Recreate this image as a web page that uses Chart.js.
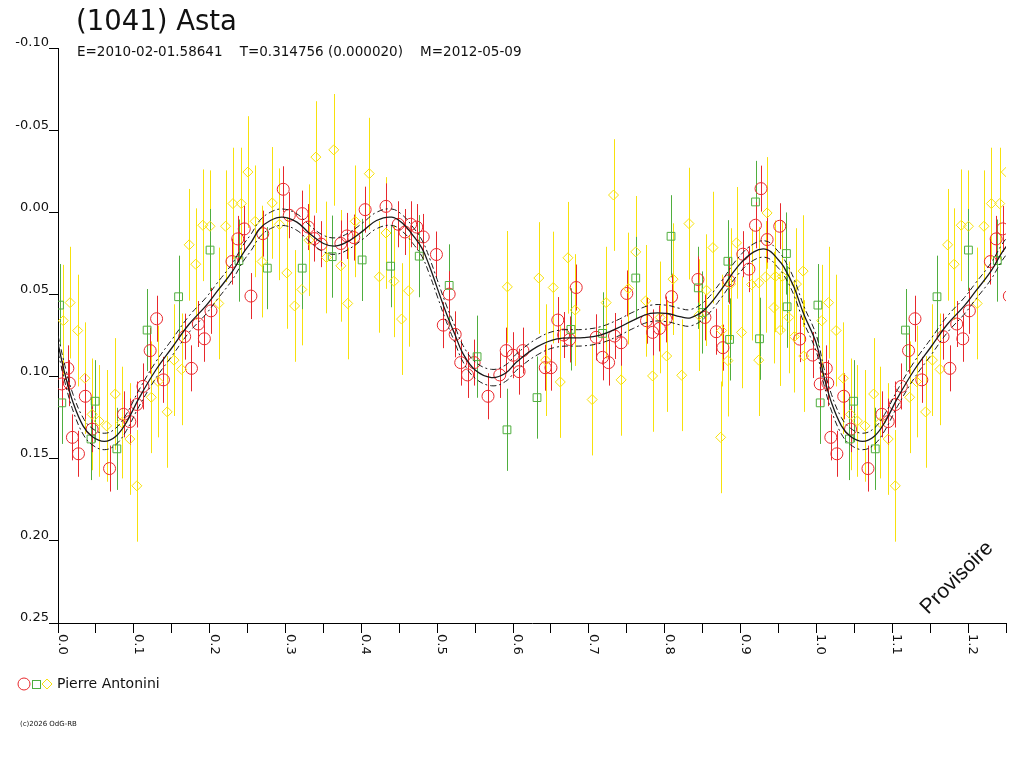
<!DOCTYPE html>
<html>
<head>
<meta charset="utf-8">
<title>(1041) Asta</title>
<script src="https://cdn.jsdelivr.net/npm/chart.js@4.4.1/dist/chart.umd.min.js"></script>
<style>
  html, body { margin: 0; padding: 0; background: #fff; }
  canvas { display: block; }
</style>
</head>
<body>
<canvas id="lc" width="1024" height="768"></canvas>
<script>
// [phase, magnitude], one list per session
const redPoints = [
  [0.005, 0.1045], [0.013, 0.095], [0.015, 0.104], [0.019, 0.137], [0.027, 0.147],
  [0.036, 0.112], [0.045, 0.132], [0.068, 0.156], [0.0864, 0.123], [0.0947, 0.1274],
  [0.104, 0.117], [0.112, 0.106], [0.1215, 0.0842], [0.130, 0.0648], [0.139, 0.102],
  [0.167, 0.0757], [0.176, 0.095], [0.185, 0.068], [0.193, 0.077], [0.2017, 0.060],
  [0.2294, 0.030], [0.237, 0.0162], [0.2456, 0.0101], [0.2544, 0.051], [0.270, 0.013],
  [0.297, -0.014], [0.305, 0.0018], [0.322, 0.0008], [0.330, 0.009], [0.338, 0.016],
  [0.347, 0.0194], [0.373, 0.019], [0.381, 0.0144], [0.390, 0.0154], [0.405, -0.0016],
  [0.4325, -0.0036], [0.4487, 0.0073], [0.4575, 0.012], [0.465, 0.0073], [0.473, 0.009],
  [0.4816, 0.015], [0.499, 0.0257], [0.508, 0.0687], [0.5158, 0.0498], [0.5237, 0.0743],
  [0.531, 0.0915], [0.540, 0.099], [0.5487, 0.0915], [0.567, 0.112], [0.5825, 0.099],
  [0.591, 0.0842], [0.600, 0.087], [0.608, 0.097], [0.613, 0.0842], [0.6425, 0.0946],
  [0.650, 0.0946], [0.659, 0.0656], [0.6667, 0.0747], [0.6746, 0.0774], [0.6833, 0.0458],
  [0.7096, 0.0761], [0.718, 0.0883], [0.726, 0.0915], [0.7338, 0.0753], [0.7425, 0.0794],
  [0.750, 0.0494], [0.776, 0.066], [0.784, 0.0731], [0.793, 0.0707], [0.8017, 0.0652],
  [0.809, 0.0514], [0.8438, 0.0409], [0.853, 0.064], [0.868, 0.0727], [0.8767, 0.0824],
  [0.8846, 0.0417], [0.903, 0.0255], [0.911, 0.0346], [0.9197, 0.0079], [0.927, -0.0144],
  [0.935, 0.0166], [0.9517, 0.0085], [0.978, 0.0772], [0.995, 0.0869]
];
const greenPoints = [
  [0.002, 0.0565], [0.005, 0.116], [0.0435, 0.138], [0.049, 0.115], [0.0776, 0.144],
  [0.1175, 0.0717], [0.159, 0.0514], [0.2005, 0.023], [0.2386, 0.0294], [0.276, 0.034],
  [0.322, 0.034], [0.3615, 0.027], [0.401, 0.029], [0.4386, 0.0328], [0.4763, 0.0267],
  [0.5158, 0.0445], [0.5526, 0.0879], [0.592, 0.1324], [0.6316, 0.1128], [0.6763, 0.0713],
  [0.718, 0.0737], [0.7618, 0.040], [0.8083, 0.0146], [0.8443, 0.046], [0.8496, 0.061],
  [0.8833, 0.0298], [0.8855, 0.0774], [0.9197, -0.0063], [0.925, 0.077], [0.9605, 0.0251],
  [0.9614, 0.0575]
];
const yellowPoints = [
  [0.007, 0.066], [0.016, 0.055], [0.026, 0.072], [0.0355, 0.101], [0.045, 0.123],
  [0.054, 0.127], [0.064, 0.130], [0.0755, 0.1106], [0.084, 0.128], [0.0947, 0.138],
  [0.104, 0.1665], [0.123, 0.1126], [0.132, 0.103], [0.144, 0.1215], [0.153, 0.090],
  [0.163, 0.0956], [0.173, 0.0198], [0.1816, 0.0316], [0.191, 0.0079], [0.2005, 0.0085],
  [0.212, 0.0555], [0.221, 0.0085], [0.2307, -0.0053], [0.2417, -0.0053], [0.2504, -0.0245],
  [0.260, 0.0055], [0.269, 0.030], [0.2825, -0.0057], [0.292, 0.0073], [0.3017, 0.0369],
  [0.312, 0.057], [0.3215, 0.047], [0.331, 0.017], [0.340, -0.0336], [0.354, 0.0275],
  [0.3636, -0.038], [0.373, 0.0326], [0.382, 0.0555], [0.392, 0.0055], [0.4105, -0.0235],
  [0.4237, 0.0393], [0.4325, 0.0126], [0.443, 0.042], [0.453, 0.065], [0.4623, 0.0478],
  [0.5925, 0.0454], [0.634, 0.040], [0.643, 0.090], [0.653, 0.0458], [0.6623, 0.1033],
  [0.6724, 0.0277], [0.682, 0.0595], [0.7043, 0.114], [0.7228, 0.055], [0.7325, -0.0105],
  [0.7425, 0.102], [0.752, 0.0464], [0.7618, 0.0241], [0.775, 0.0539], [0.784, 0.0996],
  [0.794, 0.064], [0.8026, 0.0875], [0.811, 0.0407], [0.8224, 0.0992], [0.832, 0.0069],
  [0.845, 0.0626], [0.855, 0.0474], [0.8636, 0.0215], [0.8737, 0.137], [0.875, 0.072],
  [0.8833, 0.0903], [0.8868, 0.0437], [0.8947, 0.0186], [0.9013, 0.0731], [0.9145, 0.044],
  [0.924, 0.043], [0.924, 0.090], [0.933, 0.0393], [0.935, 0.0004], [0.944, 0.058],
  [0.946, 0.039], [0.9526, 0.0717], [0.955, 0.039], [0.9636, 0.064], [0.971, 0.0757],
  [0.9737, 0.0437], [0.9825, 0.0358], [0.9833, 0.0875]
];
// fitted Fourier curve, read at a few phases
const fitCurve = [
  [0.000, 0.080], [0.010, 0.100], [0.020, 0.116], [0.033, 0.130], [0.045, 0.1365],
  [0.061, 0.1395], [0.076, 0.1365], [0.090, 0.128], [0.107, 0.113], [0.129, 0.096],
  [0.151, 0.082], [0.173, 0.068], [0.195, 0.057], [0.210, 0.048], [0.230, 0.036],
  [0.244, 0.025], [0.255, 0.018], [0.266, 0.010], [0.280, 0.005], [0.296, 0.003],
  [0.315, 0.006], [0.332, 0.013], [0.350, 0.019], [0.367, 0.0205], [0.385, 0.017],
  [0.403, 0.011], [0.420, 0.005], [0.440, 0.003], [0.455, 0.007], [0.468, 0.014],
  [0.480, 0.022], [0.490, 0.033], [0.500, 0.046], [0.512, 0.0615], [0.523, 0.074],
  [0.534, 0.086], [0.550, 0.096], [0.5715, 0.1006], [0.590, 0.098], [0.605, 0.091],
  [0.632, 0.0818], [0.658, 0.077], [0.693, 0.0763], [0.715, 0.0747], [0.737, 0.0707],
  [0.759, 0.0656], [0.781, 0.0616], [0.803, 0.0616], [0.820, 0.0635], [0.834, 0.0642],
  [0.852, 0.0595], [0.874, 0.0474], [0.896, 0.0332], [0.9175, 0.0241], [0.935, 0.0227],
  [0.950, 0.029], [0.957, 0.0332], [0.970, 0.045], [0.983, 0.0616], [1.000, 0.080]
];
const fitBand = 0.005;
const errRed = 0.014;
const errGreen = 0.025;
const errYellow = 0.034;
const phaseLabels = ['0.0', '0.1', '0.2', '0.3', '0.4', '0.5', '0.6', '0.7', '0.8', '0.9', '1.0', '1.1', '1.2'];
const repeatUpTo = 0.26;

const RED = '#e8282c';
const GREEN = '#4fae3e';
const YELLOW = '#f7e10c';
const INK = '#111';

// phases below repeatUpTo are shown again after 1.0
function fold(list) {
  const pts = list.map(p => ({ x: p[0], y: p[1] }));
  list.filter(p => p[0] > 0 && p[0] < repeatUpTo).forEach(p => pts.push({ x: p[0] + 1, y: p[1] }));
  return pts;
}
const curvePts = fold(fitCurve);

const errorBars = {
  id: 'errorBars',
  beforeDatasetsDraw(chart) {
    const { ctx, chartArea, scales: { x, y } } = chart;
    ctx.save();
    ctx.beginPath();
    ctx.rect(chartArea.left, chartArea.top, chartArea.right - chartArea.left, chartArea.bottom - chartArea.top);
    ctx.clip();
    ctx.lineWidth = 1;
    chart.data.datasets.forEach(ds => {
      if (!ds.errorBar) return;
      ctx.strokeStyle = ds.borderColor;
      ds.data.forEach(p => {
        const px = Math.round(x.getPixelForValue(p.x)) + 0.5;
        ctx.beginPath();
        ctx.moveTo(px, y.getPixelForValue(p.y - ds.errorBar));
        ctx.lineTo(px, y.getPixelForValue(p.y + ds.errorBar));
        ctx.stroke();
      });
    });
    ctx.restore();
  }
};

const decorations = {
  id: 'decorations',
  afterDraw(chart) {
    const { ctx, scales: { x } } = chart;
    ctx.save();
    ctx.fillStyle = INK;
    ctx.textBaseline = 'alphabetic';
    ctx.textAlign = 'left';

    ctx.font = '27.5px "DejaVu Sans"';
    ctx.fillText('(1041) Asta', 76, 30);
    ctx.font = '13.5px "DejaVu Sans"';
    ctx.fillText('E=2010-02-01.58641    T=0.314756 (0.000020)    M=2012-05-09', 77, 56);

    // x tick labels, turned a quarter clockwise
    ctx.font = '13px "DejaVu Sans"';
    phaseLabels.forEach(t => {
      const px = x.getPixelForValue(parseFloat(t));
      ctx.save();
      ctx.translate(px + 1, 634);
      ctx.rotate(Math.PI / 2);
      ctx.fillText(t, 0, 0);
      ctx.restore();
    });

    // legend
    ctx.lineWidth = 1;
    ctx.strokeStyle = RED;
    ctx.beginPath(); ctx.arc(24, 684, 6, 0, Math.PI * 2); ctx.stroke();
    ctx.strokeStyle = GREEN;
    ctx.strokeRect(32.5, 680.5, 8, 8);
    ctx.strokeStyle = YELLOW;
    ctx.beginPath();
    ctx.moveTo(42, 684); ctx.lineTo(47, 679); ctx.lineTo(52, 684); ctx.lineTo(47, 689); ctx.closePath();
    ctx.stroke();
    ctx.font = '14px "DejaVu Sans"';
    ctx.textBaseline = 'middle';
    ctx.fillText('Pierre Antonini', 57, 684);

    ctx.font = '7px "DejaVu Sans"';
    ctx.fillText('(c)2026 OdG-RB', 20, 724);

    ctx.save();
    ctx.translate(957, 578);
    ctx.rotate(-Math.PI / 4);
    ctx.textAlign = 'center';
    ctx.font = '21px "Liberation Sans"';
    ctx.fillText('Provisoire', 0, 0);
    ctx.restore();

    ctx.restore();
  }
};

new Chart(document.getElementById('lc'), {
  type: 'scatter',
  data: {
    datasets: [
      {
        data: curvePts.map(p => ({ x: p.x, y: p.y - fitBand })),
        showLine: true, borderColor: '#1a1a1a', borderWidth: 1,
        borderDash: [6, 3, 2, 3], pointRadius: 0, tension: 0.4
      },
      {
        data: curvePts.map(p => ({ x: p.x, y: p.y + fitBand })),
        showLine: true, borderColor: '#1a1a1a', borderWidth: 1,
        borderDash: [6, 3, 2, 3], pointRadius: 0, tension: 0.4
      },
      {
        data: curvePts,
        showLine: true, borderColor: '#1a1a1a', borderWidth: 1.3,
        pointRadius: 0, tension: 0.4
      },
      {
        data: fold(yellowPoints), errorBar: errYellow,
        pointStyle: 'rectRot', pointRadius: 5, pointHoverRadius: 5,
        borderColor: YELLOW, backgroundColor: 'transparent', borderWidth: 1
      },
      {
        data: fold(greenPoints), errorBar: errGreen,
        pointStyle: 'rect', pointRadius: 5.5, pointHoverRadius: 5.5,
        borderColor: GREEN, backgroundColor: 'transparent', borderWidth: 1
      },
      {
        data: fold(redPoints), errorBar: errRed,
        pointStyle: 'circle', pointRadius: 6, pointHoverRadius: 6,
        borderColor: RED, backgroundColor: 'transparent', borderWidth: 1
      }
    ]
  },
  options: {
    responsive: false,
    animation: false,
    devicePixelRatio: 1,
    layout: { padding: { top: 48, right: 18, left: 0, bottom: 0 } },
    plugins: {
      legend: { display: false },
      tooltip: { enabled: false }
    },
    scales: {
      x: {
        type: 'linear', min: 0, max: 1.25,
        ticks: { display: false, stepSize: 0.05 },
        grid: { drawOnChartArea: false, drawTicks: true, tickLength: 10, color: '#000' },
        border: { color: '#000', width: 1 },
        afterFit(scale) { scale.height = 145; }
      },
      y: {
        type: 'linear', reverse: true, min: -0.10, max: 0.25,
        ticks: {
          stepSize: 0.05, padding: 0, labelOffset: -5, color: INK,
          font: { family: 'DejaVu Sans', size: 13 },
          callback: v => (Math.abs(v) < 1e-9 ? 0 : v).toFixed(2)
        },
        grid: { drawOnChartArea: false, drawTicks: true, tickLength: 9, color: '#000' },
        border: { color: '#000', width: 1 },
        afterFit(scale) { scale.width = 58; }
      }
    }
  },
  plugins: [errorBars, decorations]
});
</script>
</body>
</html>
